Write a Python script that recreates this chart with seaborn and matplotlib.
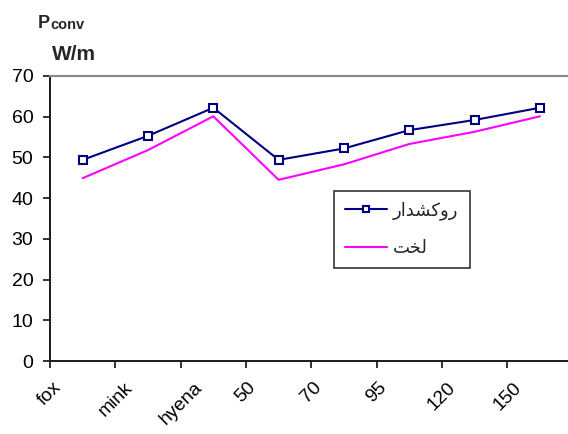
import numpy as np
import pandas as pd
import matplotlib
matplotlib.use("Agg")
import matplotlib.pyplot as plt
import matplotlib.transforms as mtransforms
import seaborn as sns

# Categories along the x axis
categories = ["fox", "mink", "hyena", "50", "70", "95", "120", "150"]

# Convective loss per unit length (W/m)
coated = [49.4, 55.3, 62.2, 49.4, 52.2, 56.7, 59.2, 62.2]   # روکشدار
bare = [44.9, 51.8, 60.1, 44.5, 48.3, 53.3, 56.3, 60.1]     # لخت

# Series names (Arabic presentation forms so the letters join when drawn)
coated_name = "\uFEAD\uFE8D\uFEAA\uFEB8\uFB90\uFEED\uFEAD"  # روکشدار
bare_name = "\uFE96\uFEA8\uFEDF"                            # لخت

y_ticks = [0, 10, 20, 30, 40, 50, 60, 70]

df_coated = pd.DataFrame({"cat": categories, "val": coated})
df_bare = pd.DataFrame({"cat": categories, "val": bare})

sns.set_style("white")
plt.rcParams["font.family"] = ["Liberation Sans", "DejaVu Sans"]

W, H = 568, 434
fig = plt.figure(figsize=(W / 100, H / 100), dpi=100)
ax = fig.add_axes([50 / W, 1 - 361 / H, 1 - 50 / W, (361 - 76) / H])

sns.lineplot(data=df_coated, x="cat", y="val", ax=ax, color="#000080",
             linewidth=1.5, marker="s", markersize=5.5,
             markerfacecolor="white", markeredgecolor="#000080",
             markeredgewidth=1.5, label=coated_name)
sns.lineplot(data=df_bare, x="cat", y="val", ax=ax, color="#FF00FF",
             linewidth=1.5, label=bare_name)

ax.set_xlim(-0.5, 7.43)
ax.set_ylim(0, 70)
ax.set_yticks(y_ticks)
ax.set_xticks(np.arange(len(categories)) - 0.5)
ax.set_xticklabels(categories, rotation=45, ha="center", va="top")
ax.set_xlabel("")
ax.set_ylabel("")

offset = mtransforms.ScaledTranslation(0.05, 0, fig.dpi_scale_trans)
for lab in ax.get_xticklabels():
    lab.set_transform(lab.get_transform() + offset)

ax.tick_params(axis="both", which="both", direction="out", length=5,
               width=1.3, color="#222222", labelcolor="black")
ax.tick_params(axis="y", pad=7, left=True, labelsize=14)
ax.tick_params(axis="x", pad=8, bottom=True, labelsize=13.8)

for side in ["left", "bottom"]:
    ax.spines[side].set_color("#1a1a1a")
    ax.spines[side].set_linewidth(1.4)
ax.spines["top"].set_color("#888888")
ax.spines["top"].set_linewidth(1.5)
ax.spines["right"].set_visible(False)
ax.grid(False)

leg = ax.legend(loc="upper left", bbox_to_anchor=(0.548, 0.598),
                frameon=True, fancybox=False, shadow=False,
                prop={"family": ["DejaVu Sans"], "size": 13},
                handlelength=2.35, handletextpad=0.3, borderpad=0.62,
                labelspacing=1.05, borderaxespad=0, markerscale=0.9)
leg.get_frame().set_edgecolor("#333333")
leg.get_frame().set_linewidth(1.2)
leg.get_frame().set_facecolor("white")
leg.get_frame().set_alpha(1)

# Axis title at the top left: P with subscript, then the unit
fig.text(38 / W, 1 - 28 / H, "P", fontsize=13, fontweight="bold",
         ha="left", va="baseline")
fig.text(50 / W, 1 - 29 / H, "conv", fontsize=10.5, fontweight="bold",
         ha="left", va="baseline")
fig.text(52 / W, 1 - 60 / H, "W/m", fontsize=15, fontweight="bold",
         ha="left", va="baseline")

fig.savefig("out.png", dpi=100)
